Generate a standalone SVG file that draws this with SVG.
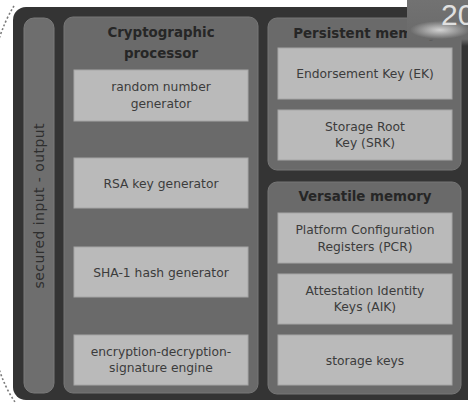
<svg xmlns="http://www.w3.org/2000/svg" width="468" height="403" viewBox="0 0 468 403">
<defs>
<style>
.outer{fill:#343434}
.panel{fill:#6a6a6a;stroke:#777;stroke-width:1}
.bar{fill:#6e6e6e;stroke:#7a7a7a;stroke-width:1}
.box{fill:#bababa;stroke:#a6a6a6;stroke-width:1}
.head{font-family:"DejaVu Sans",sans-serif;font-weight:bold;font-size:13.4px;fill:#262626;text-anchor:middle}
.lbl{font-family:"DejaVu Sans",sans-serif;font-size:12.3px;fill:#3c3c3c;text-anchor:middle}
.side{font-family:"DejaVu Sans",sans-serif;font-size:14px;fill:#2e2e2e;text-anchor:middle}
.dots{fill:none;stroke:#7a7a7a;stroke-width:1.6;stroke-dasharray:2 2.2}
</style>
<linearGradient id="cornerG" x1="0" y1="0" x2="0" y2="1">
<stop offset="0" stop-color="#727272"/>
<stop offset="0.85" stop-color="#6a6a6a"/>
<stop offset="1" stop-color="#6a6a6a" stop-opacity="0"/>
</linearGradient>
<radialGradient id="glow" cx="0.5" cy="0.5" r="0.5">
<stop offset="0" stop-color="#ffffff" stop-opacity="0.7"/>
<stop offset="1" stop-color="#ffffff" stop-opacity="0"/>
</radialGradient>
</defs>
<rect x="0" y="0" width="468" height="403" fill="#ffffff"/>
<path class="dots" d="M14 6 Q5 20 -2 42"/>
<path class="dots" d="M-2 366 Q5 388 15 402"/>
<rect class="outer" x="13" y="7" width="470" height="393" rx="13"/>
<g id="io">
<rect class="bar" x="24" y="18" width="30" height="375" rx="10"/>
<text class="side" transform="translate(39,206) rotate(-90)" x="0" y="5" textLength="165" lengthAdjust="spacing">secured input - output</text>
</g>
<g id="crypto">
<rect class="panel" x="64" y="17" width="194" height="376" rx="9"/>
<text class="head" x="161" y="37">Cryptographic</text>
<text class="head" x="161" y="58">processor</text>
</g>
<g id="rng">
<rect class="box" x="74" y="70" width="174" height="51"/>
<text class="lbl" x="161" y="91">random number</text>
<text class="lbl" x="161" y="107.5">generator</text>
</g>
<g id="rsa">
<rect class="box" x="74" y="158" width="174" height="50"/>
<text class="lbl" x="161" y="187.5">RSA key generator</text>
</g>
<g id="sha">
<rect class="box" x="74" y="247" width="174" height="50"/>
<text class="lbl" x="161" y="276.5">SHA-1 hash generator</text>
</g>
<g id="enc">
<rect class="box" x="74" y="335" width="174" height="50"/>
<text class="lbl" x="161" y="355.5">encryption-decryption-</text>
<text class="lbl" x="161" y="372">signature engine</text>
</g>
<g id="persistent">
<rect class="panel" x="268" y="18" width="193" height="152" rx="9"/>
<text class="head" x="365" y="38">Persistent memory</text>
</g>
<g id="ek">
<rect class="box" x="278" y="48" width="174" height="51"/>
<text class="lbl" x="365" y="78">Endorsement Key (EK)</text>
</g>
<g id="srk">
<rect class="box" x="278" y="110" width="174" height="50"/>
<text class="lbl" x="365" y="130.5">Storage Root</text>
<text class="lbl" x="365" y="147">Key (SRK)</text>
</g>
<g id="versatile">
<rect class="panel" x="268" y="182" width="193" height="212" rx="9"/>
<text class="head" x="365" y="201">Versatile memory</text>
</g>
<g id="pcr">
<rect class="box" x="278" y="213" width="174" height="50"/>
<text class="lbl" x="365" y="233.5">Platform Configuration</text>
<text class="lbl" x="365" y="250.5">Registers (PCR)</text>
</g>
<g id="aik">
<rect class="box" x="278" y="274" width="174" height="50"/>
<text class="lbl" x="365" y="294.5">Attestation Identity</text>
<text class="lbl" x="365" y="311">Keys (AIK)</text>
</g>
<g id="sk">
<rect class="box" x="278" y="335" width="174" height="50"/>
<text class="lbl" x="365" y="364.5">storage keys</text>
</g>
<g id="corner">
<rect x="407" y="0" width="61" height="46" fill="url(#cornerG)"/>
<ellipse cx="440" cy="30" rx="30" ry="9" fill="url(#glow)"/>
<text x="441" y="25" font-family="Liberation Sans, sans-serif" font-size="30" fill="#e0e0e0">20</text>
</g>
</svg>
